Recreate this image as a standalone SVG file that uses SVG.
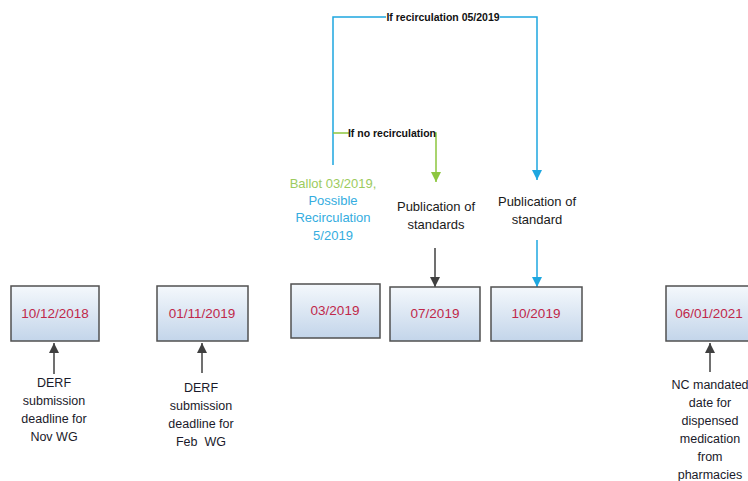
<svg xmlns="http://www.w3.org/2000/svg" width="748" height="481" viewBox="0 0 748 481">
<defs>
<linearGradient id="boxGrad" x1="0" y1="0" x2="0" y2="1">
<stop offset="0" stop-color="#f4f8fc"/>
<stop offset="1" stop-color="#c3d5ea"/>
</linearGradient>
<marker id="arrDark" viewBox="0 0 10 10" refX="10" refY="5" markerWidth="10" markerHeight="10" markerUnits="userSpaceOnUse" orient="auto">
<path d="M0,0 L10,5 L0,10 z" fill="#404040"/>
</marker>
<marker id="arrBlue" viewBox="0 0 10 10" refX="10" refY="5" markerWidth="10" markerHeight="10" markerUnits="userSpaceOnUse" orient="auto">
<path d="M0,0 L10,5 L0,10 z" fill="#1ea7e0"/>
</marker>
<marker id="arrGreen" viewBox="0 0 10 10" refX="10" refY="5" markerWidth="10" markerHeight="10" markerUnits="userSpaceOnUse" orient="auto">
<path d="M0,0 L10,5 L0,10 z" fill="#8dc63f"/>
</marker>
</defs>
<style>
.box{fill:url(#boxGrad);stroke:#505050;stroke-width:1.5}
.date{font-family:"Liberation Sans",Arial,sans-serif;font-size:13.5px;fill:#c0284a;text-anchor:middle}
.lbl{font-family:"Liberation Sans",Arial,sans-serif;font-size:12.5px;fill:#1a1a2a;text-anchor:middle}
.pub{font-family:"Liberation Sans",Arial,sans-serif;font-size:13px;fill:#1a1a1a;text-anchor:middle}
.cl{font-family:"Liberation Sans",Arial,sans-serif;font-size:10.5px;fill:#111;font-weight:bold}
.dark{fill:none;stroke:#404040;stroke-width:1.5}
.blue{fill:none;stroke:#1ea7e0;stroke-width:1.5}
.green{fill:none;stroke:#8dc63f;stroke-width:1.5}
</style>
<rect width="748" height="481" fill="#ffffff"/>

<g id="connectors">
<path class="blue" d="M333,165 V17 H537 V180" marker-end="url(#arrBlue)"/>
<path class="green" d="M333,133 H436 V182" marker-end="url(#arrGreen)"/>
<line class="dark" x1="435" y1="248" x2="435" y2="287" marker-end="url(#arrDark)"/>
<line class="blue" x1="537" y1="240" x2="537" y2="287" marker-end="url(#arrBlue)"/>
<line class="dark" x1="54" y1="374" x2="54" y2="343" marker-end="url(#arrDark)"/>
<line class="dark" x1="202" y1="373" x2="202" y2="343" marker-end="url(#arrDark)"/>
<line class="dark" x1="710" y1="372" x2="710" y2="343" marker-end="url(#arrDark)"/>
<rect x="386" y="11" width="114" height="13" fill="#ffffff"/>
<text class="cl" x="443" y="21" text-anchor="middle">If recirculation 05/2019</text>
<rect x="349" y="127" width="86" height="13" fill="#ffffff"/>
<text class="cl" x="392" y="137" text-anchor="middle">If no recirculation</text>
</g>

<g id="ballot">
<text class="pub" x="333" y="188" style="fill:#9ccb5e">Ballot 03/2019,</text>
<text class="pub" x="333" y="205" style="fill:#35ade0">Possible</text>
<text class="pub" x="333" y="222" style="fill:#35ade0">Recirculation</text>
<text class="pub" x="333" y="240" style="fill:#35ade0">5/2019</text>
</g>

<g id="pub1">
<text class="pub" x="436" y="211">Publication of</text>
<text class="pub" x="436" y="229">standards</text>
</g>

<g id="pub2">
<text class="pub" x="537" y="206">Publication of</text>
<text class="pub" x="537" y="224">standard</text>
</g>

<g id="n1">
<rect class="box" x="11" y="286" width="88" height="55"/>
<text class="date" x="55" y="318">10/12/2018</text>
</g>
<g id="n2">
<rect class="box" x="157" y="286" width="91" height="55"/>
<text class="date" x="202" y="318">01/11/2019</text>
</g>
<g id="n3">
<rect class="box" x="291" y="284" width="89" height="54"/>
<text class="date" x="335" y="315">03/2019</text>
</g>
<g id="n4">
<rect class="box" x="390" y="287" width="90" height="54"/>
<text class="date" x="435" y="318">07/2019</text>
</g>
<g id="n5">
<rect class="box" x="491" y="287" width="91" height="54"/>
<text class="date" x="536" y="318">10/2019</text>
</g>
<g id="n6">
<rect class="box" x="666" y="286" width="86" height="55"/>
<text class="date" x="709" y="318">06/01/2021</text>
</g>

<g id="l1">
<text class="lbl" x="54" y="387">DERF</text>
<text class="lbl" x="54" y="405">submission</text>
<text class="lbl" x="54" y="423">deadline for</text>
<text class="lbl" x="54" y="441">Nov WG</text>
</g>
<g id="l2">
<text class="lbl" x="201" y="392">DERF</text>
<text class="lbl" x="201" y="410">submission</text>
<text class="lbl" x="201" y="428">deadline for</text>
<text class="lbl" x="201" y="446" xml:space="preserve">Feb  WG</text>
</g>
<g id="l6">
<text class="lbl" x="710" y="389">NC mandated</text>
<text class="lbl" x="710" y="407">date for</text>
<text class="lbl" x="710" y="425">dispensed</text>
<text class="lbl" x="710" y="443">medication</text>
<text class="lbl" x="710" y="461">from</text>
<text class="lbl" x="710" y="479">pharmacies</text>
</g>
</svg>
